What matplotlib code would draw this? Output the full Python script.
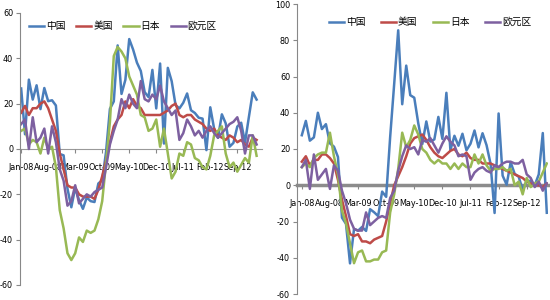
import numpy as np
import matplotlib
matplotlib.use("Agg")
import matplotlib.pyplot as plt

plt.rcParams['font.family'] = ['Noto Sans CJK SC', 'DejaVu Sans']
plt.rcParams['axes.unicode_minus'] = False

# 月度同比 (%), 2008-01 ~ 2013-02
tick_labels = ["Jan-08", "Aug-08", "Mar-09", "Oct-09", "May-10",
               "Dec-10", "Jul-11", "Feb-12", "Sep-12"]
series_names = ["中国", "美国", "日本", "欧元区"]

# 左图: 出口
china_exp = [26.7, 6.5, 30.6, 21.8, 28.1, 17.6, 26.9, 21.1, 21.5, 19.2, -2.2, -2.8,
             -17.5, -25.7, -17.1, -22.6, -26.4, -21.4, -23.0, -23.4, -15.2, -13.8, -1.2, 17.7,
             21.0, 45.7, 24.3, 30.5, 48.5, 43.9, 38.1, 34.4, 25.1, 22.9, 34.9, 17.9,
             37.7, 2.4, 35.8, 29.9, 19.4, 17.9, 20.4, 24.5, 17.1, 15.9, 13.8, 13.4,
             -0.5, 18.4, 8.9, 4.9, 15.3, 11.3, 1.0, 2.7, 9.9, 11.6, 2.9, 14.1,
             25.0, 21.8]
us_exp = [16, 19, 15, 18, 18, 20, 21, 18, 13, 8, -2, -9,
          -16, -17, -17, -20, -21, -21, -21, -22, -18, -12, -5, 3,
          10, 13, 15, 21, 18, 22, 19, 18, 15, 15, 15, 15,
          15, 16, 17, 19, 20, 15, 14, 15, 15, 13, 12, 11,
          9, 8, 9, 6, 5, 4, 6, 5, 3, 4, 2, 1,
          5, 4]
japan_exp = [8, 9, 2, 4, 3, -2, 5, 0, 1, -8, -27, -35,
             -46, -49, -46, -39, -41, -36, -37, -36, -31, -23, -6, 12,
             41, 45, 43, 40, 32, 28, 24, 15, 14, 8, 9, 13,
             1, 9, -2, -13, -10, -2, -3, 3, 2, -4, -5, -8,
             -9, -3, 6, 8, 10, -2, -8, -6, -10, -7, -4, -6,
             6, -3]
euro_exp = [11, 13, 0, 14, 3, 5, 9, -2, 10, 3, -9, -14,
            -25, -23, -16, -24, -22, -20, -21, -19, -18, -17, -8, 2,
            8, 13, 22, 18, 24, 20, 18, 30, 22, 21, 24, 22,
            28, 21, 18, 15, 17, 4, 7, 13, 10, 6, 8, 5,
            8, 10, 7, 5, 7, 9, 11, 12, 14, 8, -2, 6,
            6, 2]

# 右图: 进口
china_imp = [27.6, 35.5, 24.6, 26.4, 40.0, 31.0, 33.7, 23.1, 21.3, 15.6, -17.9, -21.3,
             -43.1, -24.1, -25.1, -23.0, -25.2, -13.2, -14.9, -17.0, -3.5, -6.4, 26.7, 55.9,
             85.5, 44.7, 66.0, 49.7, 48.3, 34.1, 22.7, 35.2, 24.1, 25.3, 37.7, 25.6,
             51.0, 19.4, 27.3, 21.8, 28.4, 19.3, 22.9, 30.2, 20.9, 28.7, 22.1, 11.8,
             -15.3, 39.6, 5.3, 0.3, 12.7, 6.3, 4.7, -2.6, 2.4, 2.4, 0.0, 6.0,
             28.8, -15.2]
us_imp = [13, 16, 11, 14, 14, 17, 17, 15, 12, 3, -8, -17,
          -27, -28, -27, -31, -31, -32, -30, -29, -28, -20, -10, 0,
          5, 10, 16, 23, 26, 27, 28, 25, 21, 18, 16, 15,
          17, 19, 20, 17, 16, 18, 15, 14, 14, 12, 12, 12,
          11, 10, 9, 8, 7, 6, 5, 4, 2, 1, 0, 0,
          -1, 1]
japan_imp = [10, 12, 10, 15, 17, 18, 18, 29, 16, 6, -14, -21,
             -32, -43, -37, -36, -42, -42, -41, -41, -37, -36, -15, -5,
             9, 29, 21, 25, 33, 28, 20, 18, 14, 12, 14, 12,
             12, 9, 12, 9, 12, 10, 10, 17, 12, 17, 11, 8,
             9, 9, 10, 8, 9, 0, 2, -5, 4, -1, 1, 2,
             7, 12]
euro_imp = [10, 14, -2, 17, 3, 6, 9, -2, 11, 8, -3, -10,
            -19, -24, -25, -25, -15, -22, -20, -18, -17, -18, -7, -3,
            8, 16, 22, 20, 21, 17, 25, 24, 26, 22, 18, 23,
            27, 24, 22, 16, 17, 16, 3, 7, 9, 10, 8, 7,
            11, 10, 12, 13, 13, 12, 12, 14, 6, 4, -1, 2,
            -3, 1]

colors = ["#4A7EBB", "#BE4B48", "#98B954", "#7D60A0"]


def draw_panel(ax, data, ylim, yticks, xlim, zero_lw, zero_color):
    x = np.arange(len(data[0]))
    for vals, name, c in zip(data, series_names, colors):
        ax.plot(x, vals, color=c, lw=1.8, label=name)
    ax.set_xlim(*xlim)
    ax.set_ylim(*ylim)
    ax.set_yticks(yticks)
    ax.set_yticklabels([str(t) for t in yticks])
    ax.set_xticks(np.arange(0, 57, 7))
    ax.set_xticklabels(tick_labels)
    ax.spines['top'].set_visible(False)
    ax.spines['right'].set_visible(False)
    ax.spines['left'].set_color("#888888")
    ax.spines['bottom'].set_position(('data', 0))
    ax.spines['bottom'].set_color(zero_color)
    ax.spines['bottom'].set_linewidth(zero_lw)
    ax.spines['bottom'].set_zorder(0)
    ax.tick_params(axis='y', labelsize=6.5, length=3, color="#888888", pad=2)
    ax.tick_params(axis='x', labelsize=6.5, length=3, color="#888888", pad=7)
    # 窄体数字, 接近原图
    for lab in ax.get_xticklabels() + ax.get_yticklabels():
        lab.set_fontfamily('DejaVu Sans')
        lab.set_fontstretch('condensed')
    ax.patch.set_alpha(0)


fig = plt.figure(figsize=(5.5, 3), dpi=100)

ax1 = fig.add_axes([20 / 550, 15 / 300, 242 / 550, 272 / 300])
draw_panel(ax1, [china_exp, us_exp, japan_exp, euro_exp],
           (-60, 60), list(range(-60, 61, 20)), (-0.3, 62.4), 0.8, "#999999")
ax1.legend(loc='center', bbox_to_anchor=(123 / 550, 1 - 26 / 300),
           bbox_transform=fig.transFigure, ncol=4, frameon=False,
           fontsize=7, handlelength=1.55, handletextpad=0.2, columnspacing=1.1)

ax2 = fig.add_axes([297 / 550, 6 / 300, 251 / 550, 290 / 300])
draw_panel(ax2, [china_imp, us_imp, japan_imp, euro_imp],
           (-60, 100), list(range(-60, 101, 20)), (-1.2, 61.3), 2.5, "#8C8C8C")
ax2.legend(loc='center', bbox_to_anchor=(430 / 550, 1 - 22 / 300),
           bbox_transform=fig.transFigure, ncol=4, frameon=False,
           fontsize=7, handlelength=1.55, handletextpad=0.2, columnspacing=1.6)

fig.savefig("out.png", dpi=100)
